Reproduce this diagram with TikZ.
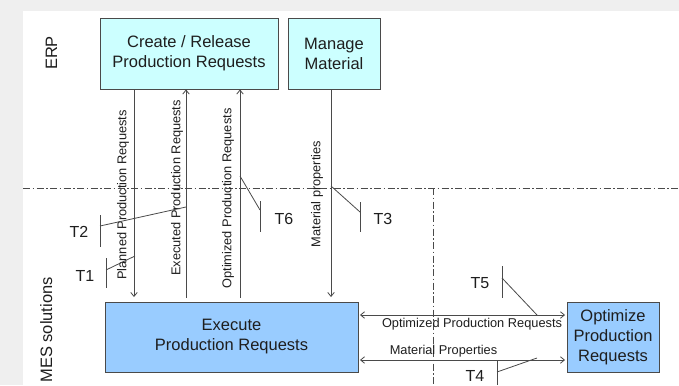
\documentclass[tikz,border=0pt]{standalone}
\usepackage{fontspec}
\setmainfont{Liberation Sans}
\usetikzlibrary{arrows.meta,calc}
\definecolor{bggray}{HTML}{EFEFEF}
\definecolor{erpfill}{HTML}{CCFFFF}
\definecolor{mesfill}{HTML}{99CCFF}
\definecolor{linegray}{HTML}{4A4A4A}
\definecolor{txt}{HTML}{1E1E1E}
\tikzset{barb/.tip={Straight Barb[length=4pt,width=6.5pt]}}
\begin{document}
\begin{tikzpicture}[x=1pt,y=-1pt,
  boxbase/.style={draw=linegray, line width=0.9pt, inner sep=0pt, align=center,
    font=\fontsize{16.5}{20}\selectfont, text=txt},
  erpbox/.style={boxbase, fill=erpfill},
  mesbox/.style={boxbase, fill=mesfill},
  flow/.style={draw=linegray, line width=0.8pt},
  lbl/.style={font=\fontsize{12.8}{14}\selectfont, text=txt, inner sep=0pt},
  lane/.style={font=\fontsize{16.5}{18}\selectfont, text=txt, inner sep=0pt, rotate=90, anchor=base},
  tlbl/.style={font=\fontsize{16}{18}\selectfont, text=txt, inner sep=0pt},
  callout/.style={draw=linegray, line width=0.8pt},
  dashdot/.style={draw=linegray, line width=0.8pt, dash pattern=on 7pt off 2.5pt on 1.5pt off 2.5pt}
]
\useasboundingbox (0,0) rectangle (679,385);
\fill[bggray] (0,0) rectangle (679,385);
\fill[white] (23,11) rectangle (679,385);

% lane separators
\draw[dashdot] (23,188) -- (679,188);
\draw[dashdot] (433,188) -- (433,385);

% lane labels
\node[lane] (erp) at (57,53) {ERP};
\node[lane] (mes) at (52,330) {MES solutions};

% boxes
\node[erpbox, minimum width=178pt, minimum height=71pt] (create) at (189,53.5) {Create / Release\\Production Requests};
\node[erpbox, minimum width=92pt, minimum height=71pt] (manage) at (334,53.5) {Manage\\Material};
\node[mesbox, minimum width=253pt, minimum height=70pt] (exec) at (231.5,337) {Execute\\Production Requests};
\node[mesbox, minimum width=92pt, minimum height=70pt] (opt) at (613,337) {Optimize\\Production\\Requests};

% columns
\coordinate (c1) at (134,0);
\coordinate (c2) at (186,0);
\coordinate (c3) at (240,0);
\coordinate (c4) at (331,0);
\coordinate (h1) at (0,315);
\coordinate (h2) at (0,360);

% vertical flows
\draw[flow, -{barb}, shorten >=4.5pt] (create.south -| c1) -- (exec.north -| c1);
\draw[flow, -{barb}, shorten <=4pt] (exec.north -| c2) -- (create.south -| c2);
\draw[flow, -{barb}, shorten <=4pt] (exec.north -| c3) -- (create.south -| c3);
\draw[flow, -{barb}, shorten >=4.5pt] (manage.south -| c4) -- (exec.north -| c4);

% horizontal flows
\draw[flow, {barb}-{barb}, shorten <=1.5pt, shorten >=1.5pt] (exec.east |- h1) -- (opt.west |- h1);
\draw[flow, {barb}-{barb}, shorten <=1.5pt, shorten >=1.5pt] (exec.east |- h2) -- (opt.west |- h2);

% flow labels
\node[lbl, rotate=90] (lplan) at (123,195) {Planned Production Requests};
\node[lbl, rotate=90] (lexec) at (177,188) {Executed Production Requests};
\node[lbl, rotate=90] (lopt) at (228,198.5) {Optimized Production Requests};
\node[lbl, rotate=90] (lmat) at (317,194) {Material properties};
\node[lbl] (lopt2) at (472,324) {Optimized Production Requests};
\node[lbl] (lmat2) at (443.5,351) {Material Properties};

% T callouts
\node[tlbl] (t1) at (85,276) {T1};
\coordinate (t1a) at (106,258); \coordinate (t1b) at (106,288);
\coordinate (t1c) at (106,270); \coordinate (t1d) at (135,256);
\draw[callout] (t1a) -- (t1b); \draw[callout] (t1c) -- (t1d);

\node[tlbl] (t2) at (79,232) {T2};
\coordinate (t2a) at (100,215); \coordinate (t2b) at (100,247);
\coordinate (t2c) at (100,226); \coordinate (t2d) at (186,207);
\draw[callout] (t2a) -- (t2b); \draw[callout] (t2c) -- (t2d);

\node[tlbl] (t6) at (284,218.5) {T6};
\coordinate (t6a) at (260,201); \coordinate (t6b) at (260,232);
\coordinate (t6c) at (260,210); \coordinate (t6d) at (240,176);
\draw[callout] (t6a) -- (t6b); \draw[callout] (t6c) -- (t6d);

\node[tlbl] (t3) at (383,218.5) {T3};
\coordinate (t3a) at (360,202); \coordinate (t3b) at (360,232);
\coordinate (t3c) at (360,212); \coordinate (t3d) at (331,186);
\draw[callout] (t3a) -- (t3b); \draw[callout] (t3c) -- (t3d);

\node[tlbl] (t5) at (480,283.5) {T5};
\coordinate (t5a) at (502,266); \coordinate (t5b) at (502,298);
\coordinate (t5c) at (502,278); \coordinate (t5d) at (537,315);
\draw[callout] (t5a) -- (t5b); \draw[callout] (t5c) -- (t5d);

\node[tlbl] (t4) at (475,376) {T4};
\coordinate (t4a) at (497,360); \coordinate (t4b) at (497,385);
\coordinate (t4c) at (497,372); \coordinate (t4d) at (537,358);
\draw[callout] (t4a) -- (t4b); \draw[callout] (t4c) -- (t4d);
\end{tikzpicture}
\end{document}
